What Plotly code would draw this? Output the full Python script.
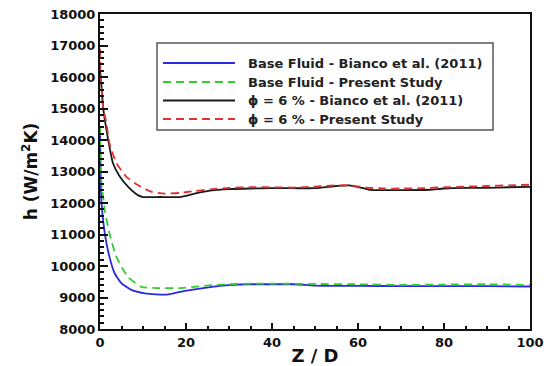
import plotly.graph_objects as go

# ---- data ----
names = [
    "Base Fluid - Bianco et al. (2011)",
    "Base Fluid - Present Study",
    "ϕ = 6 % - Bianco et al. (2011)",
    "ϕ = 6 % - Present Study",
]

bf_bianco_x = [0, 0.3, 1.1, 2.2, 3.4, 5, 7.3, 10.4, 13, 16, 18.6, 22, 26, 30, 35, 40, 45, 50, 60, 70, 80, 90, 100]
bf_bianco_y = [14300, 12100, 11040, 10290, 9770, 9450, 9240, 9130, 9100, 9100, 9180, 9260, 9340, 9390, 9420, 9420, 9420, 9380, 9370, 9360, 9360, 9360, 9350]

bf_present_x = [0, 0.3, 1.2, 2.2, 3.8, 6.5, 9.6, 13.5, 18.8, 22, 26, 30, 35, 40, 50, 60, 70, 80, 90, 100]
bf_present_y = [14400, 12730, 11700, 11040, 10290, 9650, 9340, 9300, 9300, 9340, 9390, 9420, 9440, 9440, 9430, 9420, 9400, 9410, 9420, 9400]

np_bianco_x = [0, 0.3, 0.7, 1.5, 2.2, 3.0, 4.6, 6.5, 8.8, 10, 14, 18.6, 22, 26, 30, 35, 40, 45, 50, 55, 58, 62.8, 66, 70, 76.7, 80, 85, 90, 95, 100]
np_bianco_y = [16200, 15800, 15060, 14320, 13790, 13270, 12840, 12520, 12250, 12190, 12190, 12190, 12300, 12400, 12440, 12460, 12470, 12470, 12470, 12540, 12560, 12420, 12410, 12410, 12420, 12460, 12480, 12480, 12500, 12510]

np_present_x = [0, 0.1, 0.7, 1.5, 2.2, 3.8, 6.1, 8.8, 11.9, 15, 18.6, 22, 26, 30, 35, 40, 45, 50, 55, 58, 62, 66, 70, 75, 80, 85, 90, 95, 100]
np_present_y = [16900, 16220, 15060, 14530, 13900, 13270, 12840, 12570, 12360, 12300, 12320, 12380, 12440, 12480, 12500, 12500, 12490, 12520, 12560, 12560, 12490, 12460, 12460, 12470, 12500, 12520, 12540, 12560, 12580]

xs = [bf_bianco_x, bf_present_x, np_bianco_x, np_present_x]
ys = [bf_bianco_y, bf_present_y, np_bianco_y, np_present_y]
colors = ["#2a2ae0", "#33cc33", "#1a1a1a", "#dd3333"]
dashes = ["solid", "8px,5px", "solid", "8px,5px"]

x_ticks = [0, 20, 40, 60, 80, 100]
y_ticks = list(range(8000, 18001, 1000))

fig = go.Figure()
for x, y, n, c, d in zip(xs, ys, names, colors, dashes):
    fig.add_trace(go.Scatter(x=x, y=y, name=n, mode="lines",
                             line=dict(color=c, width=1.8, dash=d, shape="spline", smoothing=0.5),
                             showlegend=False))

# ---- manual legend box (paper coords) ----
L, R, T, B = 100, 530, 14, 329
W, H = R - L, B - T
def px(x): return (x - L) / W
def py(y): return (B - y) / H

fig.add_shape(type="rect", xref="paper", yref="paper",
              x0=px(157), x1=px(493), y0=py(130), y1=py(43),
              line=dict(color="#555555", width=1.5), fillcolor="white", layer="above")
rows = [63, 82, 100.5, 119]
for r, n, c, d in zip(rows, names, colors, dashes):
    fig.add_shape(type="line", xref="paper", yref="paper",
                  x0=px(163), x1=px(235), y0=py(r), y1=py(r),
                  line=dict(color=c, width=1.8, dash=d), layer="above")
    fig.add_annotation(xref="paper", yref="paper", x=px(246), y=py(r), text=n,
                       showarrow=False, xanchor="left", yanchor="middle",
                       font=dict(family="DejaVu Sans", size=13, color="#222222", weight="bold"))

tickfont = dict(family="DejaVu Sans", size=13, color="#111111", weight="bold")
fig.update_layout(
    width=549, height=366,
    margin=dict(l=L, r=549 - R, t=T, b=366 - B, autoexpand=False),
    paper_bgcolor="white", plot_bgcolor="white",
    showlegend=False,
    xaxis=dict(range=[0, 100], tickvals=x_ticks, ticktext=[str(v) for v in x_ticks],
               automargin=False,
               ticks="inside", ticklen=6, tickwidth=1.5, tickcolor="#111",
               minor=dict(dtick=5, tick0=0, ticks="inside", ticklen=3, tickcolor="#111", showgrid=False),
               showline=True, linecolor="#111", linewidth=2, mirror=True,
               showgrid=False, zeroline=False, tickfont=tickfont,
               title=dict(text="Z / D", standoff=4,
                          font=dict(family="DejaVu Sans", size=18, color="#111", weight="bold"))),
    yaxis=dict(range=[8000, 18000], tickvals=y_ticks, ticktext=[str(v) for v in y_ticks],
               automargin=False,
               ticks="inside", ticklen=8, tickwidth=1.5, tickcolor="#111",
               minor=dict(dtick=200, tick0=8000, ticks="inside", ticklen=4, tickcolor="#111", showgrid=False),
               showline=True, linecolor="#111", linewidth=2, mirror=True,
               showgrid=False, zeroline=False, tickfont=tickfont,
               title=dict(text="h (W/m<sup>2</sup>K)", standoff=8,
                          font=dict(family="DejaVu Sans", size=17, color="#111", weight="bold"))),
)

fig.write_html("out.html", config={"displayModeBar": False},
               post_script="document.body.style.margin='0';document.body.style.padding='0';")
